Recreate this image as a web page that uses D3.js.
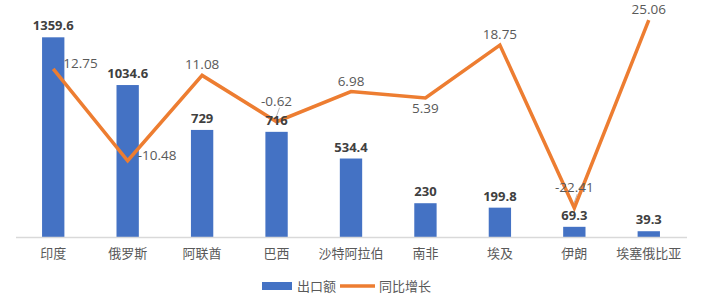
<!DOCTYPE html>
<meta charset="utf-8">
<style>
body {
  margin: 0;
  background: #fff;
}
svg text {
  font-family: "Open Sans", "Noto Sans CJK SC", sans-serif;
}
.cat, .legend-text {
  font-family: "Noto Sans CJK SC", sans-serif;
  font-size: 13px;
  fill: #595959;
}
.bar-label {
  font-size: 13px;
  font-weight: bold;
  fill: #404040;
}
.line-label {
  font-size: 13.5px;
  fill: #595959;
}
</style>
<body>
<script src="https://cdn.jsdelivr.net/npm/d3@7"></script>
<script>

var countries = ["印度", "俄罗斯", "阿联酋", "巴西", "沙特阿拉伯", "南非", "埃及", "伊朗", "埃塞俄比亚"];
var exports = [1359.6, 1034.6, 729, 716, 534.4, 230, 199.8, 69.3, 39.3];
var growth = [12.75, -10.48, 11.08, -0.62, 6.98, 5.39, 18.75, -22.41, 25.06];
// where each growth label sits relative to its point ("raised" = dragged up, with leader)
var growthPos = ["right", "right", "above", "raised", "above", "below", "above", "raised", "above"];

var width = 703,
    height = 297;

var svg = d3.select("body").append("svg")
    .attr("width", width)
    .attr("height", height);

var x = d3.scaleBand()
    .domain(countries)
    .range([16, 686])
    .paddingInner(0.7)
    .paddingOuter(0.35);

var yBar = d3.scaleLinear()
    .domain([0, 1600])
    .range([237, 2]);

var yLine = d3.scaleLinear()
    .domain([-30, 30])
    .range([238, 0.5]);

var data = countries.map(function(c, i) {
  return {name: c, value: exports[i], growth: growth[i], pos: growthPos[i]};
});

var cx = function(d) { return x(d.name) + x.bandwidth() / 2; };

// bars
svg.selectAll(".bar")
    .data(data)
  .enter().append("rect")
    .attr("class", "bar")
    .attr("x", function(d) { return x(d.name); })
    .attr("y", function(d) { return yBar(d.value); })
    .attr("width", x.bandwidth())
    .attr("height", function(d) { return yBar(0) - yBar(d.value); })
    .style("fill", "#4472C4");

// baseline
svg.append("line")
    .attr("x1", 16)
    .attr("x2", 687)
    .attr("y1", yBar(0) + 0.5)
    .attr("y2", yBar(0) + 0.5)
    .style("stroke", "#d9d9d9")
    .style("stroke-width", 1.5);

// category labels
svg.selectAll(".cat")
    .data(data)
  .enter().append("text")
    .attr("class", "cat")
    .attr("x", cx)
    .attr("y", 258)
    .attr("text-anchor", "middle")
    .text(function(d) { return d.name; });

// leader lines for raised labels
svg.selectAll(".leader")
    .data(data.filter(function(d) { return d.pos == "raised"; }))
  .enter().append("line")
    .attr("class", "leader")
    .attr("x1", function(d) { return cx(d) + 3; })
    .attr("x2", function(d) { return cx(d) - 1; })
    .attr("y1", function(d) { return yLine(d.growth) - 14; })
    .attr("y2", function(d) { return yLine(d.growth) - 3; })
    .style("stroke", "#a6a6a6")
    .style("stroke-width", 0.8);

// line
svg.append("path")
    .datum(data)
    .attr("d", d3.line()
      .x(cx)
      .y(function(d) { return yLine(d.growth); }))
    .style("fill", "none")
    .style("stroke", "#ED7D31")
    .style("stroke-width", 3.5)
    .style("stroke-linejoin", "miter");

// bar labels (on top of the line)
svg.selectAll(".bar-label")
    .data(data)
  .enter().append("text")
    .attr("class", "bar-label")
    .attr("x", cx)
    .attr("y", function(d) { return yBar(d.value) - 7; })
    .attr("text-anchor", "middle")
    .text(function(d) { return d.value; });

// growth labels
svg.selectAll(".line-label")
    .data(data)
  .enter().append("text")
    .attr("class", "line-label")
    .attr("x", function(d) { return d.pos == "right" ? cx(d) + 10 : cx(d); })
    .attr("y", function(d) {
      var py = yLine(d.growth);
      if (d.pos == "right") return py - 1;
      if (d.pos == "below") return py + 15;
      if (d.pos == "raised") return py - 16;
      return py - 6;
    })
    .attr("text-anchor", function(d) { return d.pos == "right" ? "start" : "middle"; })
    .text(function(d) { return d.growth.toFixed(2); });

// legend
var legend = svg.append("g");

legend.append("rect")
    .attr("x", 262)
    .attr("y", 282)
    .attr("width", 30)
    .attr("height", 8)
    .style("fill", "#4472C4");

legend.append("text")
    .attr("class", "legend-text")
    .attr("x", 297)
    .attr("y", 291)
    .text("出口额");

legend.append("line")
    .attr("x1", 340)
    .attr("x2", 375)
    .attr("y1", 286)
    .attr("y2", 286)
    .style("stroke", "#ED7D31")
    .style("stroke-width", 3.5);

legend.append("text")
    .attr("class", "legend-text")
    .attr("x", 379)
    .attr("y", 291)
    .text("同比增长");

</script>
